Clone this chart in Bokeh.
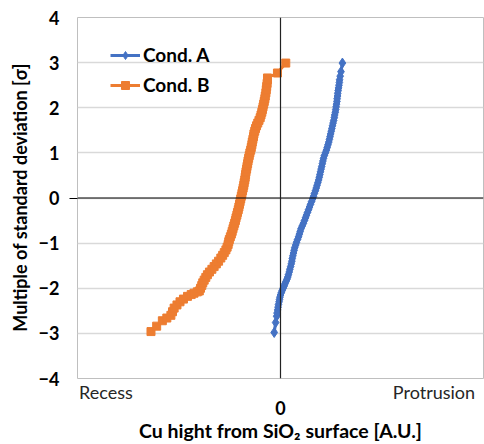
from bokeh.plotting import figure
from bokeh.models import Range1d, LinearAxis, FixedTicker, Span, Grid, Legend, LegendItem
from bokeh.embed import file_html
from bokeh.resources import INLINE

# Cond. A (blue): x = Cu height [A.U.], y = multiple of sigma
cond_a_y = [-2.98, -2.76, -2.62, -2.55, -2.48, -2.42, -2.36, -2.30, -2.25, -2.20,
            -2.15, -2.10, -2.05, -2.00, -1.95, -1.90, -1.85, -1.80, -1.75, -1.70,
            -1.64, -1.58, -1.52, -1.46, -1.40, -1.34, -1.28, -1.22, -1.16, -1.10,
            -1.04, -0.98, -0.92, -0.86, -0.80, -0.74, -0.68, -0.62, -0.56, -0.50,
            -0.44, -0.38, -0.32, -0.26, -0.20, -0.14, -0.08, -0.02, 0.04, 0.10,
            0.16, 0.22, 0.28, 0.34, 0.40, 0.46, 0.52, 0.58, 0.64, 0.70,
            0.76, 0.82, 0.88, 0.94, 1.00, 1.06, 1.12, 1.18, 1.24, 1.30,
            1.36, 1.42, 1.48, 1.54, 1.60, 1.66, 1.72, 1.78, 1.84, 1.90,
            1.96, 2.02, 2.08, 2.14, 2.20, 2.26, 2.32, 2.38, 2.44, 2.50,
            2.56, 2.62, 2.70, 2.80, 2.99]
cond_a_x = [-0.031, -0.024, -0.019, -0.017, -0.014, -0.012, -0.010, -0.007, -0.005, -0.003,
            0.000, 0.004, 0.008, 0.013, 0.018, 0.022, 0.027, 0.032, 0.036, 0.039,
            0.043, 0.046, 0.050, 0.053, 0.056, 0.058, 0.061, 0.064, 0.067, 0.070,
            0.075, 0.079, 0.084, 0.089, 0.093, 0.097, 0.101, 0.107, 0.113, 0.118,
            0.123, 0.128, 0.133, 0.138, 0.143, 0.148, 0.153, 0.158, 0.163, 0.167,
            0.172, 0.176, 0.180, 0.184, 0.188, 0.191, 0.194, 0.197, 0.200, 0.203,
            0.206, 0.209, 0.212, 0.216, 0.221, 0.226, 0.230, 0.234, 0.238, 0.241,
            0.244, 0.247, 0.250, 0.253, 0.256, 0.259, 0.262, 0.265, 0.267, 0.270,
            0.272, 0.274, 0.276, 0.278, 0.279, 0.281, 0.282, 0.284, 0.286, 0.288,
            0.290, 0.291, 0.294, 0.298, 0.305]

# Cond. B (orange)
cond_b_y = [-2.96, -2.84, -2.72, -2.66, -2.60, -2.52, -2.44, -2.37, -2.30, -2.24,
            -2.18, -2.14, -2.11, -2.08, -2.06, -2.00, -1.94, -1.88, -1.82, -1.76,
            -1.70, -1.64, -1.58, -1.52, -1.46, -1.40, -1.33, -1.27, -1.21, -1.15,
            -1.09, -1.03, -0.97, -0.92, -0.86, -0.80, -0.74, -0.68, -0.62, -0.56,
            -0.50, -0.44, -0.38, -0.32, -0.26, -0.20, -0.14, -0.08, -0.02, 0.04,
            0.10, 0.16, 0.22, 0.28, 0.34, 0.40, 0.46, 0.52, 0.58, 0.64,
            0.70, 0.76, 0.82, 0.88, 0.94, 1.00, 1.06, 1.12, 1.18, 1.24,
            1.30, 1.36, 1.42, 1.48, 1.54, 1.60, 1.66, 1.72, 1.78, 1.84,
            1.90, 1.96, 2.02, 2.08, 2.14, 2.20, 2.26, 2.33, 2.40, 2.47,
            2.54, 2.62, 2.66, 2.77, 2.99]
cond_b_x = [-0.638, -0.610, -0.582, -0.560, -0.540, -0.532, -0.524, -0.510, -0.495, -0.478,
            -0.458, -0.440, -0.426, -0.410, -0.400, -0.394, -0.388, -0.383, -0.376, -0.368,
            -0.360, -0.350, -0.338, -0.327, -0.316, -0.305, -0.294, -0.285, -0.277, -0.269,
            -0.263, -0.258, -0.255, -0.252, -0.247, -0.242, -0.238, -0.234, -0.230, -0.226,
            -0.222, -0.219, -0.215, -0.212, -0.208, -0.205, -0.202, -0.199, -0.196, -0.193,
            -0.190, -0.187, -0.184, -0.181, -0.179, -0.176, -0.174, -0.172, -0.170, -0.167,
            -0.165, -0.162, -0.160, -0.157, -0.154, -0.151, -0.147, -0.144, -0.141, -0.139,
            -0.136, -0.133, -0.131, -0.127, -0.123, -0.118, -0.112, -0.106, -0.100, -0.096,
            -0.092, -0.089, -0.086, -0.083, -0.080, -0.077, -0.075, -0.072, -0.070, -0.068,
            -0.066, -0.064, -0.064, -0.015, 0.026]

y_ticks = [-4, -3, -2, -1, 0, 1, 2, 3, 4]
x_zero_tick = [0]
side_label_pos = [-0.86, 0.756]
side_label_text = ["Recess", "Protrusion"]

FONT = "Lato"
BLUE = "#4472C4"
ORANGE = "#ED7D31"

p = figure(width=484, height=444,
           x_range=Range1d(-1, 1), y_range=Range1d(-4, 4),
           output_backend="svg", toolbar_location=None,
           x_axis_location=None, y_axis_location=None,
           min_border_left=77, min_border_right=1,
           min_border_top=17, min_border_bottom=66)
p.outline_line_color = "#bfbfbf"
p.outline_line_width = 1
p.background_fill_color = "white"
p.border_fill_color = "white"
p.xgrid.grid_line_color = None
p.ygrid.grid_line_color = None

# gridlines
p.add_layout(Grid(dimension=1, ticker=FixedTicker(ticks=y_ticks),
                  grid_line_color="#d9d9d9", grid_line_width=1.3))

# axes through zero
p.add_layout(Span(location=0, dimension="width", line_color="black", line_width=1.2))
p.add_layout(Span(location=0, dimension="height", line_color="#222222", line_width=1.2))

# left: small tick at 0 (closest to the frame)
tick_axis = LinearAxis(ticker=FixedTicker(ticks=[0]), major_label_overrides={0: ""},
                       major_tick_out=8, major_tick_in=0, major_tick_line_color="black",
                       axis_line_color=None, minor_tick_line_color=None,
                       major_label_standoff=0)
p.add_layout(tick_axis, "left")

yaxis = LinearAxis(ticker=FixedTicker(ticks=y_ticks),
                   axis_label="Multiple of standard deviation [σ]",
                   major_tick_line_color=None, minor_tick_line_color=None,
                   major_tick_out=0, major_tick_in=0,
                   axis_line_color=None, major_label_standoff=10,
                   axis_label_standoff=5)
yaxis.major_label_text_font = FONT
yaxis.major_label_text_font_style = "bold"
yaxis.major_label_text_font_size = "18px"
yaxis.major_label_text_color = "black"
yaxis.axis_label_text_font = FONT
yaxis.axis_label_text_font_style = "bold"
yaxis.axis_label_text_font_size = "18px"
yaxis.axis_label_text_color = "black"
p.add_layout(yaxis, "left")

# bottom: Recess / Protrusion
side_axis = LinearAxis(ticker=FixedTicker(ticks=side_label_pos),
                       major_label_overrides=dict(zip(side_label_pos, side_label_text)),
                       major_tick_line_color=None, minor_tick_line_color=None,
                       major_tick_out=0, major_tick_in=0,
                       axis_line_color=None, major_label_standoff=2)
side_axis.major_label_text_font = FONT
side_axis.major_label_text_font_size = "18px"
side_axis.major_label_text_color = "#262626"
p.add_layout(side_axis, "below")

xaxis = LinearAxis(ticker=FixedTicker(ticks=x_zero_tick),
                   axis_label="Cu hight from SiO₂ surface [A.U.]",
                   major_tick_line_color=None, minor_tick_line_color=None,
                   major_tick_out=0, major_tick_in=0,
                   axis_line_color=None, major_label_standoff=-5,
                   axis_label_standoff=1)
xaxis.major_label_text_font = FONT
xaxis.major_label_text_font_style = "bold"
xaxis.major_label_text_font_size = "18px"
xaxis.major_label_text_color = "black"
xaxis.axis_label_text_font = FONT
xaxis.axis_label_text_font_style = "bold"
xaxis.axis_label_text_font_size = "19.5px"
xaxis.axis_label_text_color = "black"
p.add_layout(xaxis, "below")

# series
la = p.line(cond_a_x, cond_a_y, line_color=BLUE, line_width=3)
sa = p.scatter(cond_a_x, cond_a_y, marker="diamond", size=10, color=BLUE)
lb = p.line(cond_b_x, cond_b_y, line_color=ORANGE, line_width=3)
sb = p.scatter(cond_b_x, cond_b_y, marker="square", size=8, color=ORANGE)

legend = Legend(items=[LegendItem(label="Cond. A", renderers=[la, sa]),
                       LegendItem(label="Cond. B", renderers=[lb, sb])],
                location=(33, 282), margin=0, padding=0, spacing=7,
                glyph_width=30, glyph_height=20, label_height=20, label_standoff=3,
                border_line_color=None, background_fill_alpha=0)
legend.label_text_font = FONT
legend.label_text_font_style = "bold"
legend.label_text_font_size = "19px"
legend.label_text_color = "black"
p.add_layout(legend, "center")

open("out.html", "w").write(file_html(p, INLINE))
